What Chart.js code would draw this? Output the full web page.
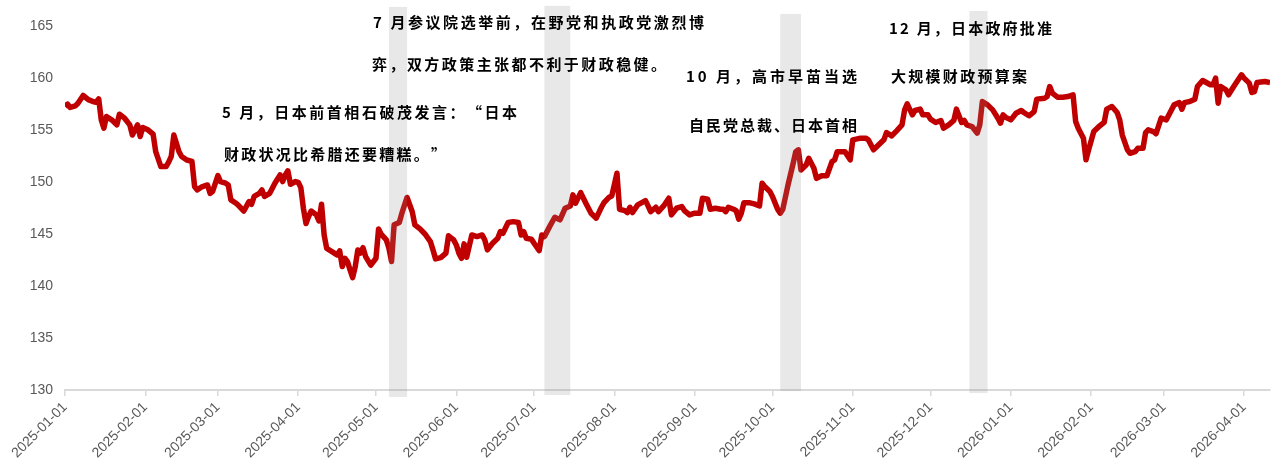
<!DOCTYPE html>
<html>
<head>
<meta charset="utf-8">
<script src="https://cdn.jsdelivr.net/npm/chart.js@4.4.1/dist/chart.umd.min.js"></script>
<style>
  html, body { margin: 0; padding: 0; background: #ffffff; }
  #wrap { width: 1274px; height: 470px; }
</style>
</head>
<body>
<div id="wrap"><canvas id="c" width="1274" height="470"></canvas></div>
<script>
// USD/JPY observations
const dates = [
  '2025-01-01','2025-01-02','2025-01-03','2025-01-05','2025-01-06','2025-01-08','2025-01-10','2025-01-12','2025-01-13','2025-01-14',
  '2025-01-15','2025-01-16','2025-01-17','2025-01-19','2025-01-21','2025-01-22','2025-01-24','2025-01-26','2025-01-27','2025-01-29',
  '2025-01-30','2025-01-31','2025-02-02','2025-02-04','2025-02-05','2025-02-07','2025-02-09','2025-02-10','2025-02-11','2025-02-12',
  '2025-02-14','2025-02-15','2025-02-17','2025-02-19','2025-02-20','2025-02-21','2025-02-23','2025-02-25','2025-02-26','2025-02-27',
  '2025-03-01','2025-03-02','2025-03-04','2025-03-05','2025-03-06','2025-03-08','2025-03-09','2025-03-11','2025-03-13','2025-03-14',
  '2025-03-15','2025-03-17','2025-03-18','2025-03-19','2025-03-21','2025-03-23','2025-03-25','2025-03-26','2025-03-27','2025-03-28',
  '2025-03-29','2025-03-31','2025-04-01','2025-04-02','2025-04-03','2025-04-04','2025-04-05','2025-04-06','2025-04-08','2025-04-09',
  '2025-04-10','2025-04-11','2025-04-12','2025-04-14','2025-04-16','2025-04-17','2025-04-18','2025-04-19','2025-04-20','2025-04-21',
  '2025-04-22','2025-04-23','2025-04-24','2025-04-25','2025-04-26','2025-04-27','2025-04-29','2025-05-01','2025-05-02','2025-05-03',
  '2025-05-05','2025-05-06','2025-05-07','2025-05-08','2025-05-10','2025-05-11','2025-05-13','2025-05-15','2025-05-16','2025-05-18',
  '2025-05-20','2025-05-22','2025-05-23','2025-05-24','2025-05-26','2025-05-28','2025-05-29','2025-05-31','2025-06-01','2025-06-02',
  '2025-06-03','2025-06-04','2025-06-05','2025-06-07','2025-06-09','2025-06-11','2025-06-12','2025-06-13','2025-06-15','2025-06-17',
  '2025-06-18','2025-06-19','2025-06-21','2025-06-23','2025-06-25','2025-06-26','2025-06-27','2025-06-28','2025-06-30','2025-07-01',
  '2025-07-03','2025-07-04','2025-07-05','2025-07-07','2025-07-09','2025-07-11','2025-07-13','2025-07-15','2025-07-16','2025-07-17',
  '2025-07-19','2025-07-21','2025-07-23','2025-07-25','2025-07-27','2025-07-28','2025-07-30','2025-07-31','2025-08-02','2025-08-03',
  '2025-08-05','2025-08-06','2025-08-07','2025-08-08','2025-08-10','2025-08-13','2025-08-14','2025-08-15','2025-08-17','2025-08-18',
  '2025-08-20','2025-08-22','2025-08-23','2025-08-25','2025-08-27','2025-08-28','2025-08-30','2025-09-01','2025-09-03','2025-09-04',
  '2025-09-06','2025-09-07','2025-09-09','2025-09-11','2025-09-12','2025-09-13','2025-09-14','2025-09-16','2025-09-17','2025-09-18',
  '2025-09-19','2025-09-20','2025-09-22','2025-09-24','2025-09-26','2025-09-27','2025-09-28','2025-09-30','2025-10-01','2025-10-03',
  '2025-10-04','2025-10-05','2025-10-07','2025-10-09','2025-10-10','2025-10-11','2025-10-12','2025-10-14','2025-10-15','2025-10-17',
  '2025-10-18','2025-10-20','2025-10-22','2025-10-24','2025-10-25','2025-10-26','2025-10-29','2025-10-31','2025-11-01','2025-11-04',
  '2025-11-06','2025-11-07','2025-11-09','2025-11-11','2025-11-13','2025-11-14','2025-11-16','2025-11-18','2025-11-20','2025-11-21',
  '2025-11-22','2025-11-24','2025-11-25','2025-11-27','2025-11-28','2025-11-30','2025-12-01','2025-12-03','2025-12-05','2025-12-06',
  '2025-12-08','2025-12-10','2025-12-11','2025-12-13','2025-12-14','2025-12-15','2025-12-17','2025-12-19','2025-12-20','2025-12-21',
  '2025-12-23','2025-12-25','2025-12-27','2025-12-28','2025-12-29','2025-12-30','2026-01-01','2026-01-03','2026-01-05','2026-01-06',
  '2026-01-08','2026-01-10','2026-01-11','2026-01-14','2026-01-15','2026-01-16','2026-01-17','2026-01-19','2026-01-21','2026-01-23',
  '2026-01-25','2026-01-26','2026-01-27','2026-01-29','2026-01-30','2026-01-31','2026-02-02','2026-02-04','2026-02-06','2026-02-07',
  '2026-02-09','2026-02-11','2026-02-12','2026-02-13','2026-02-15','2026-02-16','2026-02-18','2026-02-19','2026-02-21','2026-02-22',
  '2026-02-23','2026-02-25','2026-02-26','2026-02-28','2026-03-02','2026-03-03','2026-03-05','2026-03-07','2026-03-08','2026-03-09',
  '2026-03-11','2026-03-13','2026-03-14','2026-03-16','2026-03-19','2026-03-20','2026-03-21','2026-03-22','2026-03-23','2026-03-25',
  '2026-03-26','2026-03-28','2026-03-31','2026-04-01','2026-04-03','2026-04-04','2026-04-05','2026-04-06','2026-04-09','2026-04-11'
];

const usdJpy = [
  157.24,157.47,157.15,157.30,157.55,158.30,157.90,157.70,157.66,157.98,
  155.96,155.16,156.28,155.96,155.48,156.50,156.12,155.48,154.50,155.48,
  154.36,155.23,155.00,154.58,152.90,151.47,151.47,151.89,152.44,154.50,
  152.90,152.44,152.10,151.96,149.55,149.23,149.55,149.70,148.90,149.10,
  150.60,150.03,149.87,149.70,148.27,147.95,147.72,147.20,148.10,147.85,
  148.60,148.90,149.23,148.60,148.90,149.87,150.67,150.03,150.67,151.06,
  149.77,150.03,149.96,149.45,147.45,146.00,146.67,147.20,146.83,146.25,
  147.85,144.90,143.60,143.30,142.98,143.37,141.86,142.66,142.34,141.54,
  140.80,141.86,143.46,143.15,143.68,142.82,142.00,142.66,145.48,144.97,
  144.42,143.62,142.34,145.87,146.10,146.99,148.50,147.13,145.87,145.48,
  144.97,144.26,143.46,142.60,142.72,143.15,144.82,144.42,143.94,143.15,
  142.66,144.04,142.76,144.90,144.74,144.90,144.42,143.46,144.10,144.58,
  145.22,145.06,146.10,146.18,146.10,144.90,145.22,144.58,144.49,144.10,
  143.40,144.90,144.74,145.70,146.60,146.35,147.47,147.69,148.75,147.95,
  148.97,147.95,146.99,146.51,147.56,148.00,148.53,148.65,150.83,147.37,
  147.24,147.05,147.56,147.05,147.79,148.20,147.69,147.14,147.56,147.14,
  147.69,148.43,146.83,147.47,147.63,147.24,146.83,146.99,146.99,148.43,
  148.33,147.37,147.47,147.37,147.37,147.14,147.56,147.37,147.24,146.41,
  146.99,148.00,148.00,147.88,147.69,149.87,149.55,149.07,148.60,147.37,
  146.99,147.37,149.70,151.79,152.90,153.08,151.15,151.63,152.27,151.31,
  150.34,150.58,150.58,151.96,152.12,152.90,152.90,152.12,154.04,154.20,
  154.20,154.04,153.08,153.56,154.04,154.74,154.42,154.93,155.48,156.92,
  157.50,156.44,156.86,156.99,156.44,156.44,156.03,155.71,155.90,155.16,
  155.48,155.90,156.99,155.71,155.90,155.48,155.32,154.68,155.48,157.72,
  157.40,156.92,156.12,155.64,156.44,156.20,155.96,156.60,156.86,156.67,
  156.35,156.76,157.95,158.04,158.20,159.16,158.53,158.14,158.14,158.20,
  158.37,155.80,155.16,154.20,152.12,153.08,154.84,155.32,155.71,156.99,
  157.24,156.67,155.96,154.50,153.08,152.75,152.90,153.23,153.23,154.74,
  155.00,154.84,154.62,156.12,155.96,156.44,157.40,157.62,156.99,157.62,
  157.72,157.95,159.16,159.74,159.33,159.33,159.97,157.56,159.16,158.85,
  158.37,159.16,160.29,159.97,159.49,158.59,158.68,159.55,159.64,159.55
];

// Axis tick labels
const xTickLabels = [
  '2025-01-01','2025-02-01','2025-03-01','2025-04-01','2025-05-01','2025-06-01','2025-07-01','2025-08-01',
  '2025-09-01','2025-10-01','2025-11-01','2025-12-01','2026-01-01','2026-02-01','2026-03-01','2026-04-01'
];
const yTickValues = [130, 135, 140, 145, 150, 155, 160, 165];

// Shaded event windows
const bandStart  = ['2025-05-06', '2025-07-05', '2025-10-04', '2025-12-16'];
const bandEnd    = ['2025-05-13', '2025-07-15', '2025-10-12', '2025-12-23'];
const bandTop    = [166.81, 166.91, 166.14, 166.42];
const bandBottom = [129.33, 129.52, 129.90, 129.71];

// Event notes (two lines each)
const noteLines = [
  ['7 月参议院选举前，在野党和执政党激烈博', '弈，双方政策主张都不利于财政稳健。'],
  ['5 月，日本前首相石破茂发言：“日本', '财政状况比希腊还要糟糕。”'],
  ['10 月，高市早苗当选', '自民党总裁、日本首相'],
  ['12 月，日本政府批准', '大规模财政预算案']
];

// Note placement in canvas pixels: first glyph x, last glyph x, line centre y
const noteLayout = [
  { x: [373, 372], xLast: [689, 651], y: [22, 64] },
  { x: [222, 224], xLast: [502, 431], y: [112, 154] },
  { x: [686, 689], xLast: [842, 842], y: [76, 125] },
  { x: [889, 891], xLast: [1037, 1012], y: [28, 76] }
];

const DAY0 = Date.UTC(2025, 0, 1);
function toDay(s) {
  return (Date.UTC(+s.slice(0, 4), +s.slice(5, 7) - 1, +s.slice(8, 10)) - DAY0) / 86400000;
}

const bandsPlugin = {
  id: 'eventBands',
  afterDatasetsDraw(chart) {
    const { ctx, scales: { x, y } } = chart;
    ctx.save();
    ctx.fillStyle = 'rgba(140,140,140,0.2)';
    for (let i = 0; i < bandStart.length; i++) {
      const x0 = x.getPixelForValue(toDay(bandStart[i]));
      const x1 = x.getPixelForValue(toDay(bandEnd[i]));
      const y0 = y.getPixelForValue(bandTop[i]);
      const y1 = y.getPixelForValue(bandBottom[i]);
      ctx.fillRect(x0, y0, x1 - x0, y1 - y0);
    }
    ctx.restore();
  }
};

// Notes are spread evenly between their first and last glyph positions
const notesPlugin = {
  id: 'eventNotes',
  afterDraw(chart) {
    const ctx = chart.ctx;
    ctx.save();
    ctx.fillStyle = '#000000';
    ctx.font = 'bold 15px "Noto Sans CJK SC", "Noto Sans", sans-serif';
    ctx.textBaseline = 'middle';
    ctx.textAlign = 'left';
    noteLines.forEach((lines, i) => {
      lines.forEach((line, j) => {
        const chars = Array.from(line);
        const widths = chars.map(ch => ctx.measureText(ch).width);
        const x0 = noteLayout[i].x[j];
        const natural = widths.slice(0, -1).reduce((a, b) => a + b, 0);
        const gap = (noteLayout[i].xLast[j] - x0 - natural) / (chars.length - 1);
        let cx = x0;
        const cy = noteLayout[i].y[j];
        chars.forEach((ch, k) => {
          ctx.fillText(ch, cx, cy);
          cx += widths[k] + gap;
        });
      });
    });
    ctx.restore();
  }
};

const tickFont = { family: '"Liberation Sans", Arial, sans-serif', size: 14 };

new Chart(document.getElementById('c').getContext('2d'), {
  type: 'line',
  data: {
    datasets: [{
      data: dates.map((d, i) => ({ x: toDay(d), y: usdJpy[i] })),
      borderColor: '#C00000',
      borderWidth: 5.5,
      borderJoinStyle: 'round',
      pointRadius: 0,
      tension: 0,
      fill: false
    }]
  },
  options: {
    animation: false,
    responsive: false,
    events: [],
    layout: { padding: { top: 0, right: 4, bottom: 0, left: 0 } },
    plugins: { legend: { display: false }, tooltip: { enabled: false } },
    scales: {
      x: {
        type: 'linear',
        min: 0,
        max: 465,
        afterBuildTicks: s => { s.ticks = xTickLabels.map(t => ({ value: toDay(t) })); },
        afterFit: s => { s.height = 80; },
        ticks: {
          autoSkip: false,
          minRotation: 45,
          maxRotation: 45,
          padding: 3,
          color: '#595959',
          font: tickFont,
          callback: (v, i) => xTickLabels[i]
        },
        grid: { display: true, drawOnChartArea: false, drawTicks: true, tickLength: 6, color: '#d9d9d9', lineWidth: 1.5 },
        border: { display: true, color: '#d9d9d9', width: 2 }
      },
      y: {
        min: 130,
        max: 166.67,
        afterBuildTicks: s => { s.ticks = yTickValues.map(v => ({ value: v })); },
        afterFit: s => { s.width = 65; },
        ticks: { color: '#595959', font: tickFont, padding: 0 },
        grid: { display: false, drawTicks: true, tickLength: 12 },
        border: { display: false }
      }
    }
  },
  plugins: [bandsPlugin, notesPlugin]
});
</script>
</body>
</html>
